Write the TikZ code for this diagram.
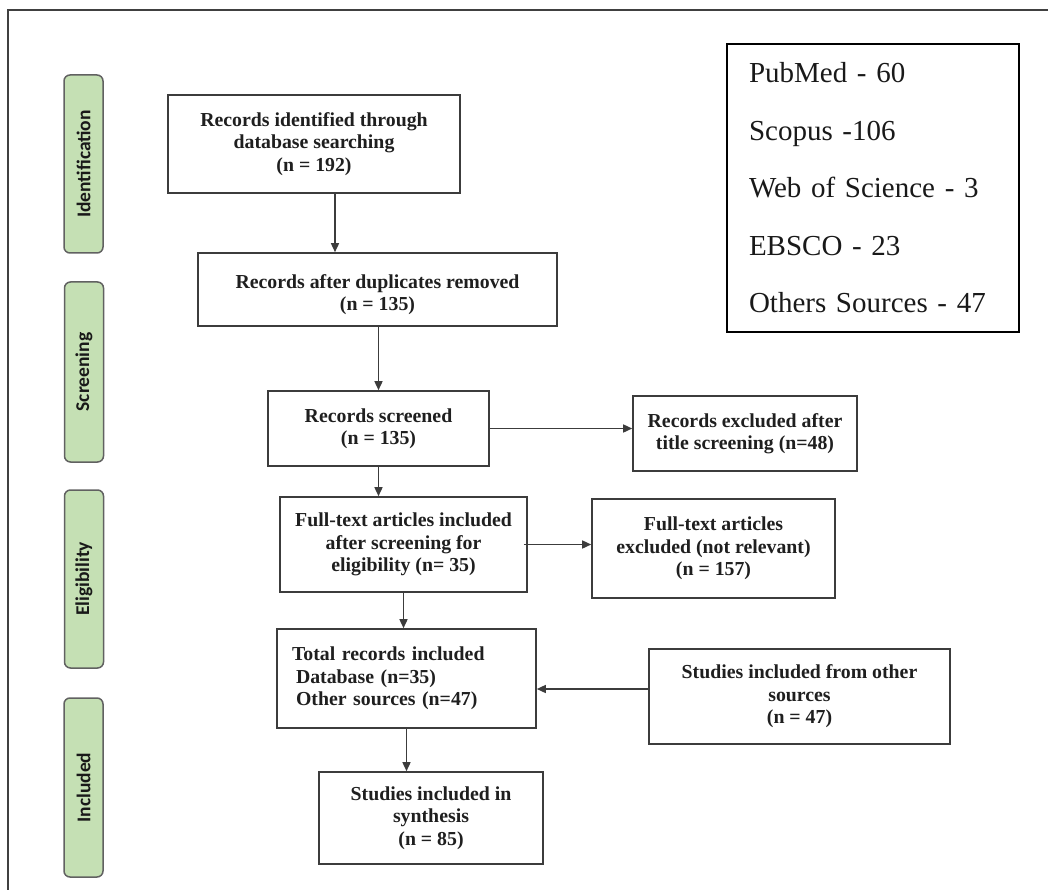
\documentclass[tikz,border=0pt]{standalone}
\usepackage{fontspec}
\setmainfont{Liberation Serif}
\newfontfamily\labfont{Carlito}
\usetikzlibrary{arrows.meta}
\definecolor{phase}{HTML}{C5E0B4}
\definecolor{edgec}{HTML}{3C3C3C}
\begin{document}
\begin{tikzpicture}[x=1pt,y=-1pt,
  box/.style={draw=edgec, line width=1.6pt, fill=white, inner sep=0pt, align=center,
    font=\bfseries\fontsize{19.8pt}{22.5pt}\selectfont, text=black!88},
  phaselab/.style={draw=black!62, line width=1.5pt, fill=phase, rounded corners=6pt,
    rotate=90, minimum height=39pt, inner sep=0pt,
    font=\labfont\bfseries\fontsize{19.5pt}{22pt}\selectfont, text=black!90},
  arr/.style={draw=edgec, line width=1.5pt, -{Triangle[length=9pt,width=8pt]}}]
\useasboundingbox (0,0) rectangle (1048,890);
% outer frame (top and left edges visible)
\draw[black!75, line width=1.3pt] (8,890) -- (8,10) -- (1048,10);

% phase labels
\node[phaselab, minimum width=178pt] (p1) at (83.5,164) {Identification};
\node[phaselab, minimum width=180pt] (p2) at (84,372) {Screening};
\node[phaselab, minimum width=178pt] (p3) at (84,579) {Eligibility};
\node[phaselab, minimum width=179pt] (p4) at (83.5,787.5) {Included};

% flow boxes
\node[box, minimum width=292pt, minimum height=98pt] (id) at (314,144)
  {Records identified through\\database searching\\(n = 192)};
\node[box, minimum width=359pt, minimum height=73pt] (dup) at (377.5,289.5)
  {\rule{0pt}{24pt}Records after duplicates removed\\(n = 135)};
\node[box, minimum width=221pt, minimum height=75pt] (scr) at (378.5,428.5)
  {Records screened\\(n = 135)};
\node[box, minimum width=224pt, minimum height=75pt] (exa) at (745,433.5)
  {Records excluded after\\title screening (n=48)};
\node[box, minimum width=247pt, minimum height=95pt] (full) at (403.5,544.5)
  {Full-text articles included\\after screening for\\eligibility (n= 35)};
\node[box, minimum width=243pt, minimum height=99pt] (exb) at (713.5,548.5)
  {Full-text articles\\excluded (not relevant)\\(n = 157)};
\node[box, minimum width=259pt, minimum height=99pt, text width=229pt, align=left] (tot) at (406.5,678.5)
  {Total records included\\\hspace*{4pt}Database (n=35)\\\hspace*{4pt}Other sources (n=47)};
\node[box, minimum width=301pt, minimum height=95pt] (oth) at (799.5,696.5)
  {Studies included from other\\sources\\(n = 47)};
\node[box, minimum width=224pt, minimum height=92pt] (syn) at (431,818)
  {Studies included in\\synthesis\\(n = 85)};

% source box
\node[draw=black, line width=2.2pt, inner sep=0pt, minimum width=292pt, minimum height=288pt,
  text width=248pt, align=left, font=\fontsize{29pt}{57.5pt}\selectfont, text=black!90] (src) at (873,188)
  {PubMed - 60\\Scopus -106\\Web of Science - 3\\EBSCO - 23\\Others Sources - 47};

% connectors
\draw[arr] ([xshift=21pt]id.south) -- ([xshift=21pt]id.south |- dup.north);
\draw[arr] (dup.south -| scr.north) -- (scr.north);
\draw[arr] (scr.east) -- (scr.east -| exa.west);
\draw[arr] (scr.south) -- (scr.south |- full.north);
\draw[arr] ([xshift=-4pt]full.east) -- (full.east -| exb.west);
\draw[arr] (full.south) -- (full.south |- tot.north);
\draw[arr] ([yshift=7.5pt]oth.west) -- ([yshift=7.5pt]oth.west -| tot.east);
\draw[arr] (tot.south) -- (tot.south |- syn.north);
\end{tikzpicture}
\end{document}
